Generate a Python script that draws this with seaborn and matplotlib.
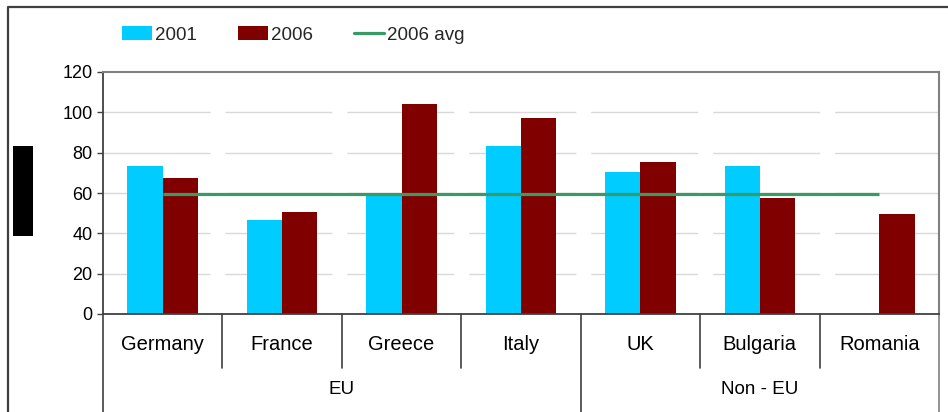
import numpy as np
import pandas as pd
import matplotlib
matplotlib.use("Agg")
import matplotlib.pyplot as plt
from matplotlib.patches import Patch, Rectangle
from matplotlib.lines import Line2D
from matplotlib.transforms import blended_transform_factory
import seaborn as sns

# ---- data ----
countries = ["Germany", "France", "Greece", "Italy", "UK", "Bulgaria", "Romania"]
groups = ["EU", "Non - EU"]
group_sizes = [4, 3]
values_2001 = [73.4, 46.6, 60.0, 83.3, 70.4, 73.4, np.nan]
values_2006 = [67.4, 50.6, 104.0, 97.2, 75.4, 57.5, 49.6]
avg_2006 = 59.6
years = ["2001", "2006"]
yticks = [0, 20, 40, 60, 80, 100, 120]

df = pd.DataFrame({
    "country": countries * 2,
    "year": [years[0]] * len(countries) + [years[1]] * len(countries),
    "value": values_2001 + values_2006,
})

sns.set_theme(style="white")
plt.rcParams["font.family"] = ["Liberation Sans", "DejaVu Sans"]

W, H = 948, 412
fig = plt.figure(figsize=(W / 100, H / 100), dpi=100)
L, R, T, B = 103, 939, 72, 314
ax = fig.add_axes([L / W, (H - B) / H, (R - L) / W, (B - T) / H])

c2001 = "#00CCFF"
c2006 = "#800000"
cavg = "#3A9A66"
dark = "#404040"
grey = "#808080"

sns.barplot(data=df, x="country", y="value", hue="year", order=countries,
            hue_order=years, palette=[c2001, c2006], width=0.59, saturation=1,
            linewidth=0, edgecolor="none", legend=False, ax=ax, zorder=3)

# average line from first to last category
xs = np.arange(len(countries))
ax.plot([xs[0], xs[-1]], [avg_2006, avg_2006], color=cavg, lw=2.3,
        solid_capstyle="butt", zorder=4)

ax.set_xlim(-0.5, len(countries) - 0.5)
ax.set_ylim(0, 120)
ax.set_yticks(yticks)
ax.set_yticklabels([str(v) for v in yticks], fontsize=13)
ax.set_xticks([])
ax.set_xlabel("")
ax.set_ylabel("")
ax.tick_params(axis="y", direction="out", length=4.5, width=1, color=dark,
               pad=3, left=True, labelcolor="black")

# gridlines
for v in yticks[1:-1]:
    ax.axhline(v, color="#D9D9D9", lw=1.0, linestyle=(0, (77, 10.8)), zorder=1)

for s in ["left", "bottom"]:
    ax.spines[s].set_color(dark)
    ax.spines[s].set_linewidth(1.3)
for s in ["top", "right"]:
    ax.spines[s].set_color(grey)
    ax.spines[s].set_linewidth(1.5)
ax.spines["bottom"].set_zorder(5)

# multi-level category axis
trans = blended_transform_factory(ax.transData, ax.transAxes)
axh = B - T
inner_bottom = -(368 - B) / axh
outer_bottom = -(H - B + 2) / axh
bounds = np.arange(len(countries) + 1) - 0.5
group_edges = np.cumsum([0] + group_sizes) - 0.5
for bx in bounds:
    is_outer = np.any(np.isclose(bx, group_edges))
    yb = outer_bottom if is_outer else inner_bottom
    col = grey if bx == bounds[-1] else dark
    ax.plot([bx, bx], [0, yb], transform=trans, color=col, lw=1.2,
            clip_on=False, zorder=5)

for i, c in enumerate(countries):
    ax.text(i, -(345 - B) / axh, c, transform=trans, ha="center", va="center",
            fontsize=14.5, color="black")
for g, lo, hi in zip(groups, group_edges[:-1], group_edges[1:]):
    ax.text((lo + hi) / 2, -(390 - B) / axh, g, transform=trans, ha="center",
            va="center", fontsize=13.5, color="black")

# legend
handles = [Patch(facecolor=c2001, edgecolor="none", label=years[0]),
           Patch(facecolor=c2006, edgecolor="none", label=years[1]),
           Line2D([], [], color=cavg, lw=2.3, label="2006 avg")]
fig.legend(handles=handles, loc="center", bbox_to_anchor=(293 / W, 1 - 35 / H),
           ncol=3, frameon=False, fontsize=13.5, handlelength=1.6,
           handleheight=0.75, handletextpad=0.15, columnspacing=2.2,
           borderaxespad=0, borderpad=0)

# redacted box on the left
fig.patches.append(Rectangle((13 / W, (H - 236) / H), 20 / W, 90 / H,
                             transform=fig.transFigure, facecolor="black",
                             edgecolor="none"))
# outer frame (top and left edges visible)
fig.lines.append(Line2D([8 / W, 8 / W, 1.0], [0, 1 - 7 / H, 1 - 7 / H],
                        transform=fig.transFigure, color=dark, lw=1.6))

fig.savefig("out.png", dpi=100)
